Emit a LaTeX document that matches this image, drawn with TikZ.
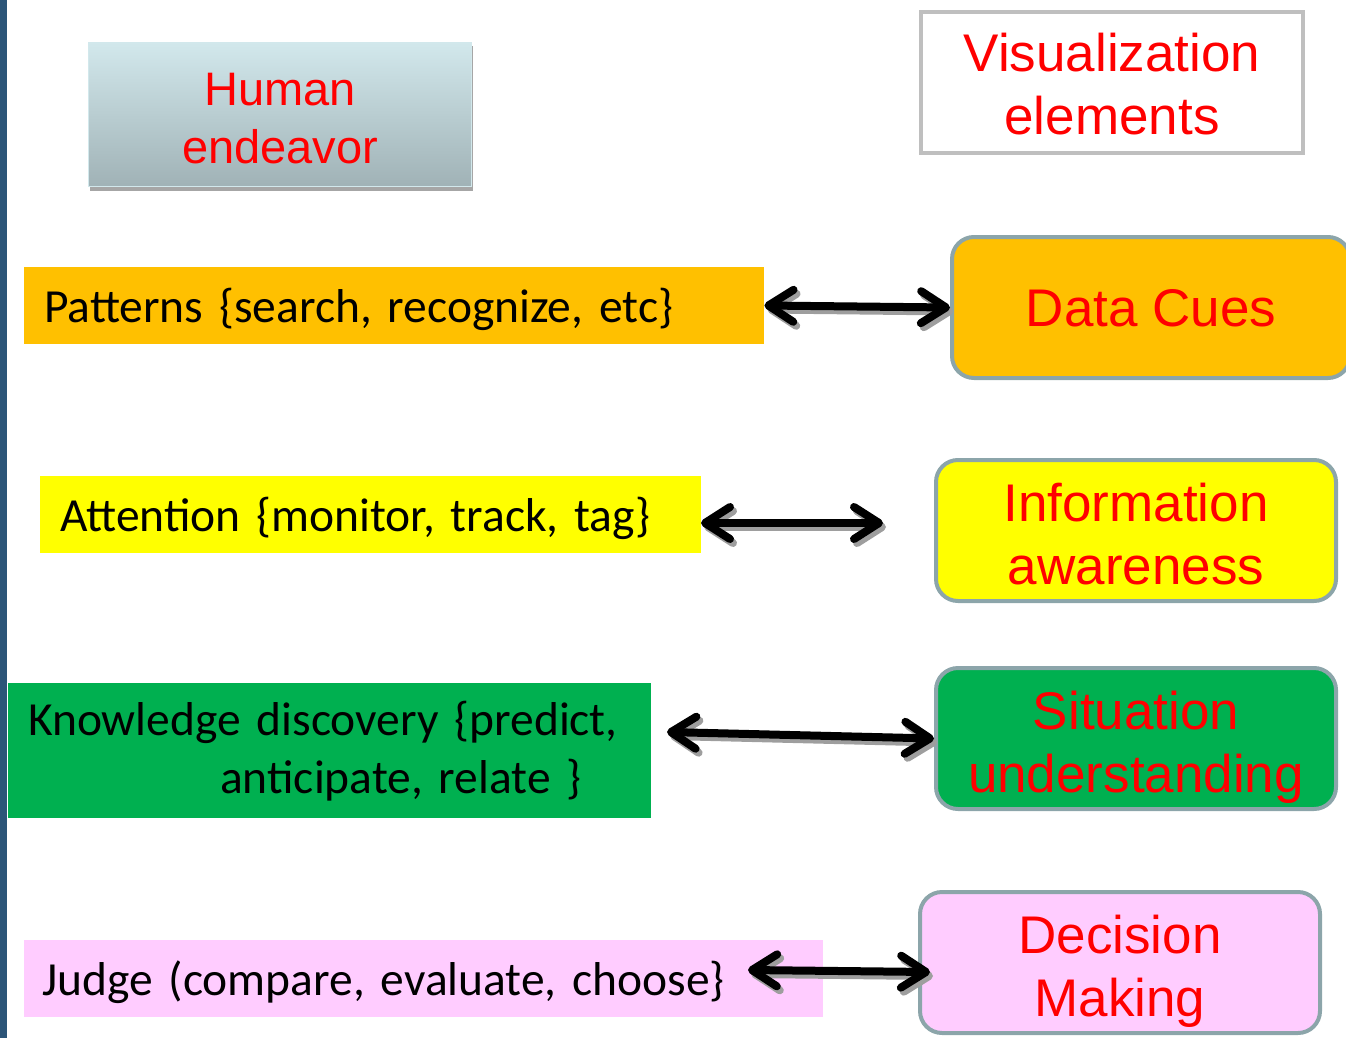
\documentclass[tikz,border=0pt]{standalone}
\usepackage{fontspec}
\setmainfont{Carlito}
\newfontfamily\arialfont{Liberation Sans}
\usepackage{color}
\definecolor{myorange}{RGB}{255,192,0}
\definecolor{myyellow}{RGB}{255,255,0}
\definecolor{mygreen}{RGB}{0,176,80}
\definecolor{mypink}{RGB}{255,204,255}
\definecolor{myborder}{RGB}{140,165,170}
\definecolor{mybar}{RGB}{44,85,120}
\definecolor{mytop}{RGB}{210,232,236}
\definecolor{mybottom}{RGB}{160,178,182}
\usepackage{tikz}
\usetikzlibrary{arrows.meta,shadows,positioning}
\tikzstyle{leftbox}=[rectangle,anchor=west,inner xsep=20pt,inner ysep=0pt,minimum height=77pt,text depth=0pt,align=left,font=\fontsize{47.5}{58}\selectfont]
\tikzstyle{rightbox}=[rectangle,rounded corners=22pt,draw=myborder,line width=4pt,minimum width=400pt,minimum height=141pt,inner sep=0pt,text height=107pt,text depth=0pt,align=center,text=red,font=\arialfont\fontsize{53}{63}\selectfont]
\tikzset{barb/.tip={Straight Barb[length=25pt,width=32pt,line cap=round,line join=round]}}
\tikzstyle{dblarrow}=[line width=8pt,barb-barb]
\tikzstyle{arrowshade}=[dblarrow,draw=black!38,transform canvas={shift={(3,4)}}]

\begin{document}
\begin{tikzpicture}[x=1pt,y=-1pt]
\useasboundingbox (0,0) rectangle (1346,1038);
\fill[mybar] (0,0) rectangle (7,1038);

% headings
\node [rectangle,draw=mytop,line width=1.5pt,top color=mytop,bottom color=mybottom,
  drop shadow={shadow xshift=1pt,shadow yshift=-4pt,fill=black!35,opacity=1},
  minimum width=383pt,minimum height=144pt,text height=97pt,text depth=0pt,align=center,text=red,
  font=\arialfont\fontsize{47}{58}\selectfont] (human) at (280,114.5) {Human\\endeavor};
\node [rectangle,draw=black!25,line width=4pt,minimum width=382pt,minimum height=141pt,
  text height=104pt,text depth=0pt,align=center,text=red,font=\arialfont\fontsize{53}{63}\selectfont] (vis) at (1112,82.5) {Visualization\\elements};

% left column
\node [leftbox,fill=myorange,text width=700pt] (pat) at (24,305.5) {Patterns \{search, recognize, etc\}};
\node [leftbox,fill=myyellow,text width=621pt] (att) at (40,514) {Attention \{monitor, track, tag\}};
\node [leftbox,fill=mygreen,minimum height=135pt,text depth=64pt,text width=603pt] (know) at (8,750.5)
  {Knowledge discovery \{predict,\\\hspace*{192pt}anticipate, relate \}};
\node [leftbox,fill=mypink,inner xsep=18pt,text width=763pt] (judge) at (24,978) {Judge (compare, evaluate, choose\}};

% right column
\node [rightbox,fill=myorange,minimum width=398pt,text height=38pt] (cues) at (1151,307.5) {Data Cues};
\node [rightbox,fill=myyellow] (info) at (1136,530.5) {Information\\awareness};
\node [rightbox,fill=mygreen] (sit) at (1136,738.5) {Situation\\understanding};
\node [rightbox,fill=mypink] (dec) at (1120,962.5) {Decision\\Making};

\coordinate (a1) at (701,523);
\coordinate (a2) at (883,523);
\coordinate (k1) at (667,732);
\coordinate (j1) at (748,970);
\coordinate (d1) at (930,972);

% arrows with their shadows
\draw [arrowshade] (pat.east) -- (cues.west);
\draw [arrowshade] (a1) -- (a2);
\draw [arrowshade] (k1) -- (sit.west);
\draw [arrowshade] (j1) -- (d1);
\draw [dblarrow] (pat.east) -- (cues.west);
\draw [dblarrow] (a1) -- (a2);
\draw [dblarrow] (k1) -- (sit.west);
\draw [dblarrow] (j1) -- (d1);
\end{tikzpicture}
\end{document}
